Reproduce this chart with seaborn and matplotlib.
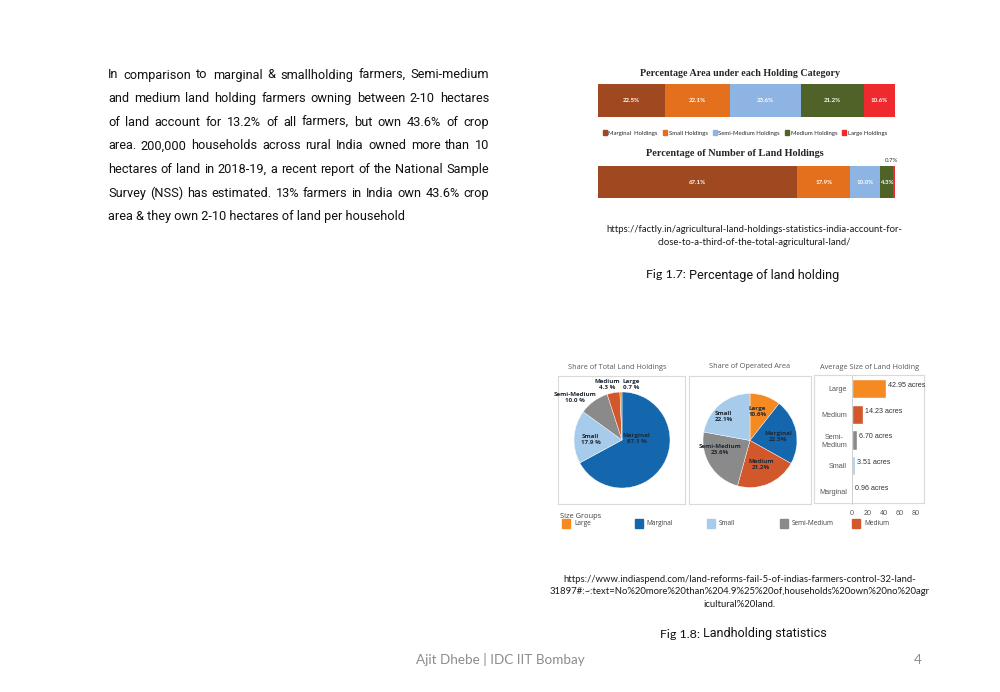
import matplotlib
matplotlib.use("Agg")
import matplotlib.pyplot as plt
from matplotlib.patches import Patch, Rectangle
import numpy as np
import pandas as pd
import seaborn as sns

# ---- data -------------------------------------------------------------
paragraph_lines = [
    "In comparison to marginal & smallholding farmers, Semi-medium",
    "and medium land holding farmers owning between 2-10 hectares",
    "of land account for 13.2% of all farmers, but own 43.6% of crop",
    "area. 200,000 households across rural India owned more than 10",
    "hectares of land in 2018-19, a recent report of the National Sample",
    "Survey (NSS) has estimated. 13% farmers in India own 43.6% crop",
    "area & they own 2-10 hectares of land per household",
]

holding_cats = ["Marginal  Holdings", "Small Holdings", "Semi-Medium Holdings",
                "Medium Holdings", "Large Holdings"]
area_pct = [22.5, 22.1, 23.6, 21.2, 10.6]
count_pct = [67.1, 17.9, 10.0, 4.3, 0.7]

pie1_groups = ["Marginal", "Small", "Semi-Medium", "Medium", "Large"]
pie1_share = [67.1, 17.9, 10.0, 4.3, 0.7]
pie2_groups = ["Large", "Marginal", "Medium", "Semi-Medium", "Small"]
pie2_share = [10.6, 22.5, 21.2, 23.6, 22.1]

avg_groups = ["Large", "Medium", "Semi-\nMedium", "Small", "Marginal"]
avg_acres = [42.95, 14.23, 6.70, 3.51, 0.96]
avg_ticks = [0, 20, 40, 60, 80]

legend_groups = ["Large", "Marginal", "Small", "Semi-Medium", "Medium"]

url_17 = ["https://factly.in/agricultural-land-holdings-statistics-india-account-for-",
          "close-to-a-third-of-the-total-agricultural-land/"]
url_18 = ["https://www.indiaspend.com/land-reforms-fail-5-of-indias-farmers-control-32-land-",
          "31897#:~:text=No%20more%20than%204.9%25%20of,households%20own%20no%20agr",
          "icultural%20land."]

# ---- style ------------------------------------------------------------
sns.set_theme(style="white")
plt.rcParams["font.family"] = ["Roboto", "DejaVu Sans"]

c17 = ["#A0481F", "#E4701E", "#8EB4E3", "#4F6228", "#EE2A2F"]
c18 = {"Large": "#F58A22", "Marginal": "#1467AC", "Small": "#A6CBEB",
       "Semi-Medium": "#8A8A8A", "Medium": "#D2572A"}
c18["Semi-\nMedium"] = c18["Semi-Medium"]
grey_txt = "#595959"
box_col = "#DADADA"

W, H = 1000, 692
fig = plt.figure(figsize=(10, 6.92), dpi=100)
fig.patch.set_facecolor("white")


def px_axes(x0, y0, x1, y1):
    return fig.add_axes([x0 / W, 1 - y1 / H, (x1 - x0) / W, (y1 - y0) / H])


def ftxt(x, y, s, **kw):
    kw.setdefault("ha", "center")
    kw.setdefault("va", "center")
    return fig.text(x / W, 1 - y / H, s, **kw)


def caption(x, y, head, tail):
    t = ftxt(x, y, head, ha="left", family=["Lato", "DejaVu Sans"], fontsize=8.9,
             color="#111111")
    fig.add_artist(plt.Annotation(tail, xy=(1, 0.5), xycoords=t, va="center",
                                  ha="left", fontsize=9.0, color="#111111"))


# ---- justified paragraph ---------------------------------------------
renderer = fig.canvas.get_renderer()
left, right, y0, dy = 108, 489, 75, 23.65
for i, line in enumerate(paragraph_lines):
    y = y0 + i * dy
    if i == len(paragraph_lines) - 1:
        ftxt(left, y, line, ha="left", fontsize=9.2, color="#111111")
        continue
    words = line.split()
    texts = [ftxt(0, y, w, ha="left", fontsize=9.2, color="#111111") for w in words]
    widths = [t.get_window_extent(renderer).width for t in texts]
    gap = (right - left - sum(widths)) / (len(words) - 1)
    x = left
    for t, w in zip(texts, widths):
        t.set_x(x / W)
        x += w + gap

# ---- Fig 1.7 : stacked percentage bars --------------------------------
serif = ["Liberation Serif", "DejaVu Serif"]
lato = ["Lato", "DejaVu Sans"]
ftxt(740, 73, "Percentage Area under each Holding Category", family=serif,
     fontweight="bold", fontsize=7.2, color="#262626")
ftxt(735, 154, "Percentage of Number of Land Holdings", family=serif,
     fontweight="bold", fontsize=7.4, color="#262626")


def stacked(ax, vals, inside_min=2):
    cum = np.concatenate([[0], np.cumsum(vals)[:-1]])
    ax.barh(0, vals, left=cum, color=c17, height=1.0, edgecolor="none")
    for v, l in zip(vals, cum):
        if v >= inside_min:
            ax.text(l + v / 2, 0, f"{v:.1f}%", ha="center", va="center",
                    color="white", fontsize=4.4, fontweight="bold", family=lato)
    ax.set_xlim(0, sum(vals))
    ax.set_ylim(-0.5, 0.5)
    ax.axis("off")
    return cum


ax_a = px_axes(598, 84, 895, 117)
stacked(ax_a, area_pct)
ax_c = px_axes(598, 166, 895, 198)
cum_c = stacked(ax_c, count_pct)
ax_c.text(cum_c[-1] + count_pct[-1] / 2 - 0.8, 0.68, f"{count_pct[-1]:.1f}%",
          ha="center", va="center", fontsize=4.4, color="#333333", family=lato)

fig.legend(handles=[Patch(color=c, label=l) for c, l in zip(c17, holding_cats)],
           loc="center", bbox_to_anchor=(745 / W, 1 - 133 / H), ncol=5,
           frameon=False, handlelength=0.7, handleheight=0.7,
           handletextpad=0.3, columnspacing=0.8,
           prop={"family": lato, "size": 4.3})

for k, s in enumerate(url_17):
    ftxt(754, 230 + k * 12.5, s, family=lato, fontsize=6.8, color="#1a1a1a")
caption(646, 275, "Fig 1.7:", " Percentage of land holding")

# ---- Fig 1.8 : pies + average size bars -------------------------------
sans = ["Open Sans", "DejaVu Sans"]
ftxt(617, 368, "Share of Total Land Holdings", family=sans, fontsize=5.3, color=grey_txt)
ftxt(750, 367, "Share of Operated Area", family=sans, fontsize=5.3, color=grey_txt)
ftxt(870, 368, "Average Size of Land Holding", family=sans, fontsize=5.3, color=grey_txt)


def frame(x0, y0, x1, y1):
    a = px_axes(x0, y0, x1, y1)
    a.set_xticks([])
    a.set_yticks([])
    a.set_facecolor("white")
    for s in a.spines.values():
        s.set_color(box_col)
        s.set_linewidth(0.8)
    return a


def pie(cx, cy, R, groups, share, offsets, pct_fmt):
    lim = 1.3
    ax = px_axes(cx - lim * R, cy - lim * R, cx + lim * R, cy + lim * R)
    ax.pie(share, colors=[c18[g] for g in groups], startangle=90, counterclock=False,
           wedgeprops={"edgecolor": "white", "linewidth": 0.3})
    ax.set_xlim(-lim, lim)
    ax.set_ylim(-lim, lim)
    for g, v in zip(groups, share):
        dx, dy_ = offsets[g]
        ax.text(dx, dy_, f"{g}\n{pct_fmt.format(v)}", ha="center", va="center",
                fontsize=4.5, fontweight="bold", color="#1f2a36", family=sans,
                linespacing=1.25)
    ax.axis("off")


frame(558, 376, 685, 504)
frame(689, 376, 811, 504)
pie(622, 440, 48, pie1_groups, pie1_share,
    {"Marginal": (0.31, 0.04), "Small": (-0.65, 0.02), "Semi-Medium": (-0.98, 0.88),
     "Medium": (-0.31, 1.16), "Large": (0.2, 1.16)}, "{:.1f} %")
pie(750, 440.5, 47, pie2_groups, pie2_share,
    {"Large": (0.16, 0.62), "Marginal": (0.60, 0.085), "Medium": (0.23, -0.52),
     "Semi-Medium": (-0.63, -0.20), "Small": (-0.56, 0.51)}, "{:.1f}%")

frame(814, 375, 924, 503)
ax_b = px_axes(852, 376, 916, 504)
df_avg = pd.DataFrame({"group": avg_groups, "acres": avg_acres})
sns.barplot(data=df_avg, x="acres", y="group", hue="group", palette=c18,
            saturation=1, legend=False, width=0.75, orient="h", ax=ax_b)
ax_b.set_xlim(0, 80)
ax_b.set_xticks(avg_ticks)
ax_b.set_xlabel("")
ax_b.set_ylabel("")
ax_b.set_facecolor("none")
ax_b.tick_params(axis="both", length=0, labelsize=5.2, labelcolor=grey_txt)
ax_b.tick_params(axis="x", pad=4.5)
ax_b.tick_params(axis="y", pad=3.5)
for lab in ax_b.get_xticklabels() + ax_b.get_yticklabels():
    lab.set_family(["Liberation Sans", "DejaVu Sans"])
for lab in ax_b.get_yticklabels():
    lab.set_multialignment("center")
for s in ["top", "right", "bottom"]:
    ax_b.spines[s].set_visible(False)
ax_b.spines["left"].set_color("#C8C8C8")
ax_b.spines["left"].set_linewidth(0.6)
for i, v in enumerate(avg_acres):
    ax_b.text(v + 2.5, i - 0.12, f"{v:.2f} acres", va="center", ha="left",
              fontsize=5.1, color="#333333", family=["Liberation Sans", "DejaVu Sans"])

# size groups legend
ftxt(560, 516, "Size Groups", ha="left", family=sans, fontsize=5.4, color="#404040")
for k, g in enumerate(legend_groups):
    x = 562 + k * 72.5
    fig.add_artist(Rectangle((x / W, 1 - 528 / H), 8 / W, 9 / H, color=c18[g],
                             transform=fig.transFigure))
    ftxt(x + 12, 523.5, g, ha="left", family=sans, fontsize=4.7, color="#404040")

for k, s in enumerate(url_18):
    ftxt(740, 579 + k * 12.8, s, family=lato, fontsize=6.8, color="#1a1a1a")
caption(660, 634, "Fig 1.8:", " Landholding statistics")

# ---- footer -----------------------------------------------------------
ftxt(500, 660, "Ajit Dhebe | IDC IIT Bombay", family=lato, fontsize=9.7, color="#8C8C8C")
ftxt(918, 660, "4", family=lato, fontsize=9.7, color="#8C8C8C")

fig.savefig("out.png", dpi=100, facecolor="white")
